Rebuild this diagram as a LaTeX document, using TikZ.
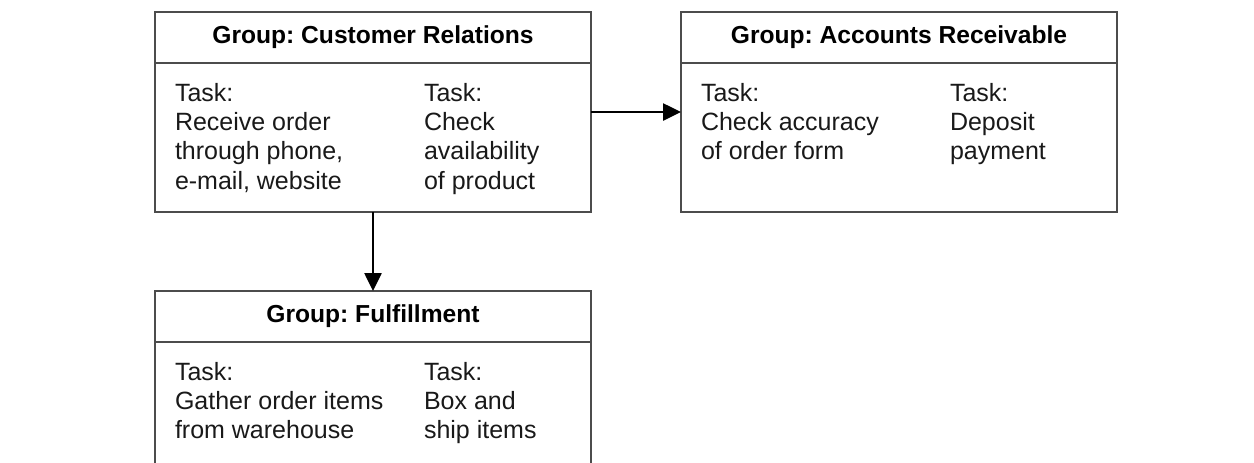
\documentclass[tikz,border=0pt]{standalone}
\usepackage{fontspec}
\setmainfont{Liberation Sans}
\usetikzlibrary{positioning,arrows.meta}
\frenchspacing

\begin{document}
\begin{tikzpicture}[x=0.5pt,y=0.5pt,font=\fontsize{12.5}{14.65}\selectfont]

	\tikzstyle{myhead}=[draw=black!70,line width=1.2pt,outer sep=0pt,minimum width=218pt,minimum height=25.5pt,inner sep=0pt,font=\fontsize{12.3}{14}\selectfont\bfseries]
	\tikzstyle{mybody}=[draw=black!70,line width=1.2pt,outer sep=0pt,minimum width=218pt,minimum height=74.5pt,inner sep=0pt]
	\tikzstyle{mytask}=[align=left,inner sep=0pt,outer sep=0pt,text=black!90]
	\tikzstyle{myarrow}=[line width=1.3pt,-{Triangle[length=9pt,width=8.5pt]}]

	\useasboundingbox (0,0) rectangle (1254,-462);
	\clip (0,0) rectangle (1254,-462);

	% customer relations
	\node[myhead] (crhead) at (373,-37.5) {Group: Customer Relations};
	\node[mybody,below=0pt of crhead] (crbody) {};
	\node[mytask,below right=10pt and 10pt of crbody.north west] (crtaska) {Task:\\Receive order\\through phone,\\e-mail, website};
	\node[mytask,below right=10pt and 134.5pt of crbody.north west] (crtaskb) {Task:\\Check\\availability\\of product};

	% accounts receivable
	\node[myhead,right=45pt of crhead] (arhead) {Group: Accounts Receivable};
	\node[mybody,below=0pt of arhead] (arbody) {};
	\node[mytask,below right=10pt and 10pt of arbody.north west] (artaska) {Task:\\Check accuracy\\of order form};
	\node[mytask,below right=10pt and 134.5pt of arbody.north west] (artaskb) {Task:\\Deposit\\payment};

	% fulfillment
	\node[myhead,below=39.5pt of crbody] (fulhead) {Group: Fulfillment};
	\node[mybody,below=0pt of fulhead] (fulbody) {};
	\node[mytask,below right=10pt and 10pt of fulbody.north west] (fultaska) {Task:\\Gather order items\\from warehouse};
	\node[mytask,below right=10pt and 134.5pt of fulbody.north west] (fultaskb) {Task:\\Box and\\ship items};

	\draw[myarrow] ([yshift=12.75pt]crbody.east) -- ([yshift=12.75pt]arbody.west);
	\draw[myarrow] (crbody.south) -- (fulhead.north);
\end{tikzpicture}
\end{document}
